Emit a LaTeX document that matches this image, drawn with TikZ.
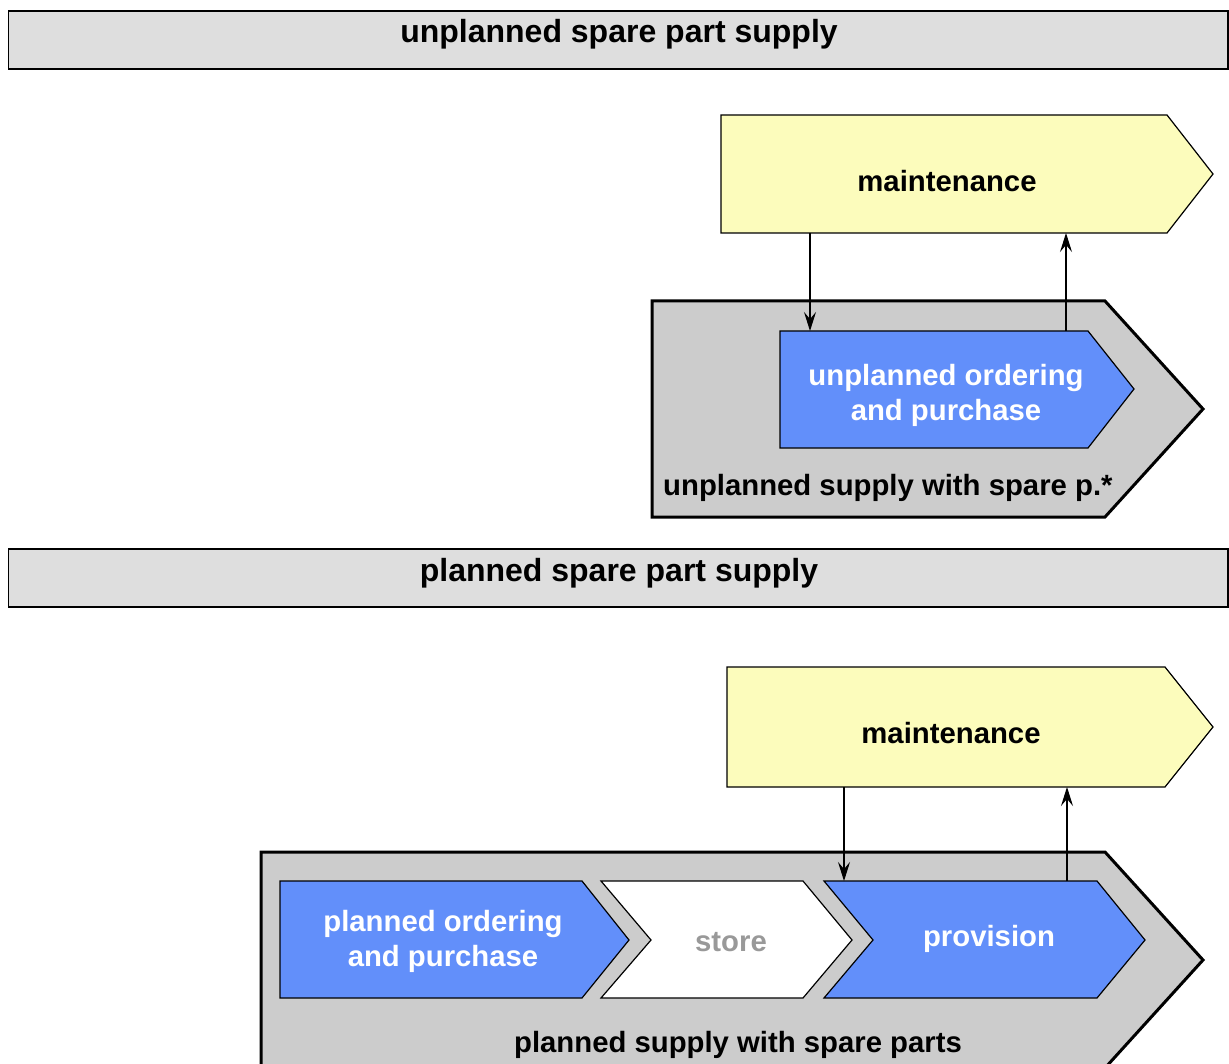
\documentclass[tikz,border=0pt]{standalone}
\usepackage{fontspec}
\setmainfont{Liberation Sans}
\usetikzlibrary{arrows.meta}
\definecolor{bannergray}{RGB}{222,222,222}
\definecolor{boxgray}{RGB}{204,204,204}
\definecolor{maintyellow}{RGB}{252,252,188}
\definecolor{procblue}{RGB}{98,143,250}
\definecolor{storegray}{RGB}{153,153,153}
\tikzset{
  banner/.style={fill=bannergray, draw=black, line width=1.2pt},
  bannerbase/.style={draw=black, line width=2.5pt},
  outerbox/.style={fill=boxgray, draw=black, line width=3pt, line join=miter},
  maintbox/.style={fill=maintyellow, draw=black, line width=1.2pt, line join=miter},
  procbox/.style={fill=procblue, draw=black, line width=1.2pt, line join=miter},
  storebox/.style={fill=white, draw=black, line width=1.2pt, line join=miter},
  headtxt/.style={inner sep=0pt, anchor=base, font=\fontsize{32}{38}\selectfont\bfseries},
  lbltxt/.style={inner sep=0pt, font=\fontsize{29.3}{35}\selectfont\bfseries, align=center},
  flow/.style={line width=1.2pt, -{Stealth[length=19pt,width=12pt,inset=7pt]}}
}
\begin{document}
\begin{tikzpicture}[x=1pt,y=-1pt]
\useasboundingbox (0,0) rectangle (1229,1064);
\clip (0,0) rectangle (1229,1064);

% ---------- unplanned section ----------
\path[banner] (8.5,11) rectangle (1228,69);
\draw[bannerbase] (8,69) -- (1229,69);
\node[headtxt] (h1) at (619,43) {unplanned spare part supply};

\path[maintbox] (721,115) -- (1167,115) -- (1213,174) -- (1167,233) -- (721,233) -- cycle;
\node[lbltxt, anchor=base] (m1) at (947,192) {maintenance};

\path[outerbox] (652,301) -- (1105,301) -- (1203,409) -- (1105,517) -- (652,517) -- cycle;
\node[lbltxt, anchor=base west] (o1) at (663,495) {unplanned supply with spare p.*};

\path[procbox] (780,331) -- (1088,331) -- (1134,389) -- (1088,448) -- (780,448) -- cycle;
\node[lbltxt, text=white] (u1) at (946,395) {unplanned ordering\\and purchase};

\coordinate (m1out) at (810,233);
\coordinate (u1in) at (810,331);
\coordinate (u1out) at (1066,331);
\coordinate (m1in) at (1066,233);
\draw[flow] (m1out) -- (u1in);
\draw[flow] (u1out) -- (m1in);

% ---------- planned section ----------
\path[banner] (8.5,549) rectangle (1228,607);
\draw[bannerbase] (8,607) -- (1229,607);
\node[headtxt] (h2) at (619,581) {planned spare part supply};

\path[maintbox] (727,667) -- (1165,667) -- (1213,727) -- (1165,787) -- (727,787) -- cycle;
\node[lbltxt, anchor=base] (m2) at (951,743) {maintenance};

\path[outerbox] (261,852) -- (1105,852) -- (1203,960) -- (1105,1068) -- (261,1068) -- cycle;
\node[lbltxt, anchor=base] (o2) at (738,1052) {planned supply with spare parts};

\path[procbox] (280,881) -- (582,881) -- (629,940) -- (582,998) -- (280,998) -- cycle;
\node[lbltxt, text=white] (p1) at (443,941) {planned ordering\\and purchase};

\path[storebox] (601,881) -- (803,881) -- (852,940) -- (803,998) -- (601,998) -- (651,940) -- cycle;
\node[lbltxt, anchor=base, text=storegray] (s1) at (731,951) {store};

\path[procbox] (824,881) -- (1097,881) -- (1145,940) -- (1097,998) -- (824,998) -- (873,940) -- cycle;
\node[lbltxt, anchor=base, text=white] (v1) at (989,946) {provision};

\coordinate (m2out) at (844,787);
\coordinate (v1in) at (844,881);
\coordinate (v1out) at (1067,881);
\coordinate (m2in) at (1067,787);
\draw[flow] (m2out) -- (v1in);
\draw[flow] (v1out) -- (m2in);
\end{tikzpicture}
\end{document}
